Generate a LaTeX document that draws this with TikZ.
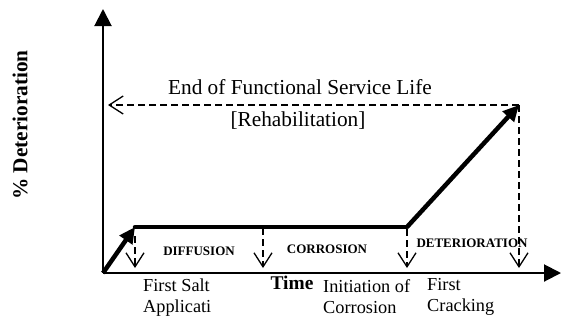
\documentclass[tikz,border=0pt]{standalone}
\usepackage{fontspec}
\setmainfont{Liberation Serif}
\usetikzlibrary{arrows.meta}
\begin{document}
\begin{tikzpicture}[x=1pt,y=-1pt,
  axis/.style={line width=2pt,-{Triangle[length=17pt,width=17pt]}},
  curve/.style={line width=4.5pt,line cap=round},
  curvearrow/.style={line width=4.5pt,-{Triangle[length=16pt,width=15pt]}},
  marker/.style={line width=1.3pt,dash pattern=on 7pt off 4pt,-{Straight Barb[length=14pt,width=18pt,line width=1.3pt]}},
  lbl/.style={font=\fontsize{18.3}{21}\selectfont,align=left,anchor=north west,inner sep=0pt},
  phase/.style={font=\fontsize{13}{15}\selectfont\bfseries,inner sep=0pt},
  big/.style={font=\fontsize{21.3}{24}\selectfont,inner sep=0pt}]
\useasboundingbox (0,0) rectangle (561,325);
\coordinate (O) at (103,273);
\coordinate (Ytop) at (103,9);
\coordinate (Xend) at (561,273);
\coordinate (A) at (135,227);
\coordinate (B) at (407,227);
\coordinate (C) at (519,105);
\coordinate (L) at (108,105);
\coordinate (m1s) at (135,236);
\coordinate (m1e) at (135,268);
\coordinate (m2s) at (263,228);
\coordinate (m2e) at (263,268);
\coordinate (m3s) at (407,229);
\coordinate (m3e) at (407,268);
\coordinate (m4e) at (519,268);
% axes
\draw[axis] (O) -- (Ytop);
\draw[axis] (O) -- (Xend);
% curve
\draw[curvearrow] (O) -- (A);
\draw[curve] (A) -- (B);
\draw[curvearrow] (B) -- (C);
% dashed markers
\draw[marker] (m1s) -- (m1e);
\draw[marker] (m2s) -- (m2e);
\draw[marker] (m3s) -- (m3e);
\draw[marker] (C) -- (m4e);
\draw[marker] (C) -- (L);
% texts
\node[big] (eofl) at (300,87) {End of Functional Service Life};
\node[big] (rehab) at (298,121) {[Rehabilitation]};
\node[big,font=\fontsize{21.3}{24}\selectfont\bfseries,rotate=90] (ylab) at (20,125) {\% Deterioration};
\node[font=\fontsize{19.4}{22}\selectfont\bfseries,inner sep=0pt] (time) at (292,283) {Time};
\node[phase] (diff) at (199,251) {DIFFUSION};
\node[phase] (corr) at (327,249) {CORROSION};
\node[phase] (det) at (472,243) {DETERIORATION};
\node[lbl] (fsa) at (143,279) {First Salt\\Applicati};
\node[lbl] (ioc) at (323,279) {Initiation of\\Corrosion};
\node[lbl] (fc) at (427,278) {First\\Cracking};
\end{tikzpicture}
\end{document}
